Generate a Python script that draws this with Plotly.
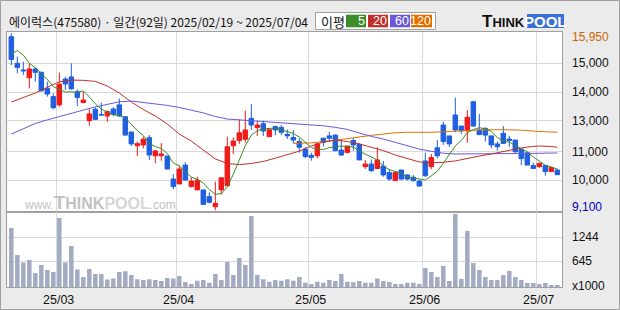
import plotly.graph_objects as go
import pandas as pd

# ---------------- data ----------------
title_text = "에이럭스(475580) · 일간(92일) 2025/02/19 ~ 2025/07/04"

month_labels = ["25/03", "25/04", "25/05", "25/06", "25/07"]
month_start_idx = [8, 28, 50, 69, 88]   # first trading day of each month (index)

opens = [15820, 14790, 14530, 14230, 14570, 14440, 13820, 13500, 13180, 14180,
         14260, 13690, 13270, 12570, 13010, 12810, 12750, 13020, 13180, 12720,
         12130, 11600, 11630, 11910, 11210, 11210, 11200, 10310, 10120, 10850,
         10020, 9890, 9890, 9630, 9240, 9890, 10050, 11600, 11800, 11850,
         12660, 12300, 12450, 11950, 12340, 12310, 12040, 11920, 11760, 11470,
         11230, 11210, 11890, 11980, 12010, 11430, 11340, 11800, 11650, 10790,
         10890, 10720, 10810, 10560, 10250, 10660, 10470, 10380, 10230, 11010,
         10790, 11520, 12400, 11980, 12790, 12360, 12180, 13300, 12210, 12270,
         11980, 11670, 12080, 11860, 11820, 11460, 11330, 10830, 10790, 10840,
         10600, 10660]
closes = [14940, 14630, 14500, 14570, 14440, 13730, 13600, 13070, 13980, 13990,
          13800, 13470, 13370, 12830, 12620, 12790, 12920, 12810, 12750, 12010,
          11670, 11680, 11850, 11240, 11400, 11280, 10700, 10020, 10700, 10270,
          10230, 10270, 9330, 9410, 9370, 10360, 11560, 11780, 12100, 12210,
          12400, 12400, 12170, 12220, 12210, 12120, 11980, 11820, 11540, 11180,
          11150, 11670, 11730, 11890, 11410, 11240, 11590, 11630, 11050, 10890,
          10630, 11050, 10470, 10310, 10560, 10310, 10310, 10250, 10040, 10440,
          11140, 11210, 11760, 11670, 12210, 12180, 12700, 12360, 12030, 12010,
          11630, 11560, 11690, 11800, 11370, 11100, 10850, 10720, 10920, 10600,
          10760, 10480]
highs = [15950, 15050, 14850, 14790, 14620, 14470, 14080, 13630, 14430, 14270,
         14790, 13780, 13690, 13010, 13090, 13270, 12960, 13090, 13430, 12750,
         12140, 11760, 11950, 12010, 11430, 11700, 11200, 10500, 10830, 10960,
         10380, 10400, 9890, 9800, 10210, 10360, 11950, 11920, 12620, 12960,
         13210, 12570, 12570, 12220, 12380, 12400, 12230, 12210, 11890, 11540,
         11330, 11690, 11910, 12140, 12040, 11850, 11590, 11890, 11690, 11050,
         11070, 11540, 11010, 10690, 10600, 10660, 10500, 10470, 10270, 11330,
         11280, 11820, 12530, 11980, 13460, 12360, 12980, 13340, 12830, 12310,
         11980, 11760, 12360, 11980, 11820, 11500, 11330, 10940, 10920, 10840,
         10790, 10710]
lows = [14720, 14400, 14340, 13820, 14080, 13690, 13500, 13010, 13110, 13760,
        13760, 13140, 13240, 12380, 12600, 12750, 12520, 12750, 12720, 12000,
        11590, 11200, 11500, 11050, 10920, 11020, 10690, 9920, 10120, 10270,
        9980, 9890, 9310, 9370, 9100, 9710, 10050, 11280, 11670, 11720,
        12210, 11980, 11980, 11950, 12000, 12010, 11860, 11690, 11330, 11110,
        11020, 11120, 11560, 11760, 11380, 11200, 11300, 11410, 11050, 10700,
        10600, 10700, 10400, 10250, 10250, 10270, 10250, 10210, 10020, 10380,
        10690, 11110, 11630, 11560, 12120, 12050, 11720, 12340, 12010, 11760,
        11500, 11410, 11670, 11560, 11280, 10850, 10850, 10720, 10750, 10440,
        10600, 10480]
volumes = [1476, 805, 614, 680, 357, 556, 431, 382, 1725, 614,
           1029, 440, 257, 456, 332, 332, 191, 216, 382, 398,
           307, 199, 183, 199, 183, 158, 232, 216, 282, 133,
           83, 166, 183, 116, 332, 183, 630, 307, 730, 556,
           1775, 307, 199, 141, 183, 166, 199, 166, 257, 116,
           83, 141, 116, 183, 158, 332, 141, 124, 158, 116,
           116, 216, 158, 133, 83, 83, 116, 116, 83, 481,
           382, 257, 531, 158, 1825, 207, 1402, 606, 431, 257,
           183, 183, 307, 407, 257, 183, 108, 108, 83, 108,
           58, 58]

# moving averages (MA5 head, rest from closes; MA20/60/120 read)
ma5_head = [15150, 15280, 15110, 14790]
ma20_idx = [0, 4, 8, 10, 12, 14, 16, 18, 20, 22, 24, 26, 28, 30, 32, 34, 36, 38, 40, 42,
            44, 46, 48, 50, 52, 54, 56, 58, 60, 62, 64, 66, 68, 70, 72, 74, 76, 78, 80, 82,
            84, 86, 88, 90, 91]
ma20_val = [13290, 13640, 14070, 14140, 14130, 14090, 13910, 13640, 13290, 13000,
            12750, 12440, 12050, 11780, 11430, 11090, 10910, 10870, 10910, 10990,
            11120, 11240, 11390, 11590, 11740, 11820, 11760, 11670, 11550, 11410,
            11240, 11090, 10970, 10940, 10960, 11010, 11110, 11200, 11280, 11380,
            11470, 11550, 11590, 11570, 11540]
ma60_idx = [0, 2, 4, 6, 8, 10, 12, 14, 16, 18, 20, 22, 24, 26, 28, 30, 32, 34, 36, 38,
            40, 42, 44, 46, 48, 50, 52, 54, 56, 58, 60, 62, 64, 66, 68, 70, 72, 74, 78, 82,
            86, 91]
ma60_val = [12050, 12250, 12460, 12600, 12730, 12870, 12980, 13100, 13210, 13300,
            13330, 13270, 13230, 13160, 13080, 12980, 12870, 12730, 12630, 12600,
            12570, 12540, 12510, 12470, 12450, 12420, 12370, 12310, 12230, 12090,
            11960, 11860, 11720, 11590, 11470, 11380, 11310, 11280, 11280, 11280,
            11300, 11320]
ma120_idx = [47, 50, 53, 56, 58, 60, 62, 64, 66, 70, 74, 78, 82, 85, 88, 91]
ma120_val = [11690, 11710, 11780, 11880, 11940, 12000, 12050, 12100, 12120, 12120,
             12160, 12210, 12220, 12200, 12150, 12120]

price_grid_labels = ["15,000", "14,000", "13,000", "11,000", "10,000"]
price_grid_vals = [14790, 13670, 12560, 11370, 10260]
vol_grid_vals = [645, 1244]

# ---------------- styling ----------------
W, H = 620, 310
def px(x):
    return x / W
def py(y):
    return 1 - y / H

RED = "#f01a1a"
BLUE = "#1f5fe0"
C5, C20, C60, C120 = "#3c8c28", "#c0302a", "#6a58d8", "#e07000"
GRID = "#d9d9d9"
FRAME = "#a0a0a0"
AXF = "Liberation Sans, Arial, sans-serif"
KRF = "Noto Sans CJK KR, sans-serif"

idx = list(range(len(opens)))
ma5 = ma5_head + list(pd.Series(closes).rolling(5).mean().iloc[4:].round(0))

fig = go.Figure()
fig.add_trace(go.Bar(x=idx, y=volumes, xaxis="x2", yaxis="y2", width=0.75,
                     marker=dict(color="#a3abc3", line=dict(width=0))))
fig.add_trace(go.Scatter(x=ma120_idx, y=ma120_val, mode="lines", line=dict(color=C120, width=1)))
fig.add_trace(go.Scatter(x=ma60_idx, y=ma60_val, mode="lines", line=dict(color=C60, width=1)))
fig.add_trace(go.Scatter(x=ma20_idx, y=ma20_val, mode="lines", line=dict(color=C20, width=1)))
fig.add_trace(go.Scatter(x=idx, y=ma5, mode="lines", line=dict(color=C5, width=1)))
fig.add_trace(go.Candlestick(
    x=idx, open=opens, high=highs, low=lows, close=closes, whiskerwidth=0,
    increasing=dict(line=dict(color=RED, width=1), fillcolor=RED),
    decreasing=dict(line=dict(color=BLUE, width=1), fillcolor=BLUE),
    xaxis="x", yaxis="y"))

xdom = [px(7.3), px(562.3)]
xr = [-0.67, 91.83]
grid_x = [i - 0.5 for i in month_start_idx]
common_x = dict(domain=xdom, range=xr, tickvals=grid_x, showticklabels=False, ticks="",
                showgrid=True, gridcolor=GRID, gridwidth=1, zeroline=False,
                showline=True, mirror=True, linecolor=FRAME, linewidth=1, fixedrange=True)
common_y = dict(showticklabels=False, ticks="", showgrid=True, gridcolor=GRID, gridwidth=1,
                zeroline=False, showline=True, mirror=True, linecolor=FRAME, linewidth=1)

fig.update_layout(
    width=W, height=H, margin=dict(l=0, r=0, t=0, b=0),
    paper_bgcolor="#ebebeb", plot_bgcolor="#ffffff", showlegend=False,
    boxgap=0.25, boxgroupgap=0,
    xaxis=dict(anchor="y", rangeslider=dict(visible=False), **common_x),
    xaxis2=dict(anchor="y2", matches="x", **common_x),
    yaxis=dict(domain=[py(212.3), py(31.7)], range=[9023, 16012], tickvals=price_grid_vals, **common_y),
    yaxis2=dict(domain=[py(287.3), py(212.3)], range=[0, 1866], tickvals=vol_grid_vals, **common_y),
)

ann = []
shapes = []
# outer frame
shapes.append(dict(type="rect", xref="paper", yref="paper", x0=px(0.5), x1=px(619.5), y0=py(309.5), y1=py(0.5),
                   line=dict(color=FRAME, width=1), layer="above"))
# title
ann.append(dict(text=title_text, xref="paper", yref="paper", x=px(6.5), y=py(21), xanchor="left", yanchor="middle",
                showarrow=False, font=dict(family=KRF, size=12, color="#111111")))
# MA legend box
shapes.append(dict(type="rect", xref="paper", yref="paper", x0=px(315.5), x1=px(435.5), y0=py(29.5), y1=py(12.5),
                   fillcolor="#ffffff", line=dict(color=FRAME, width=1)))
ann.append(dict(text="이평", xref="paper", yref="paper", x=px(319), y=py(21), xanchor="left", yanchor="middle",
                showarrow=False, font=dict(family=KRF, size=13, color="#111111")))
for (x0, x1, c, t) in [(346, 366, C5, "5"), (368, 388, C20, "20"), (390, 410, C60, "60"), (411, 432, C120, "120")]:
    shapes.append(dict(type="rect", xref="paper", yref="paper", x0=px(x0), x1=px(x1), y0=py(27.3), y1=py(14.7),
                       fillcolor=c, line=dict(width=0)))
    ann.append(dict(text=t, xref="paper", yref="paper", x=px(x1 + 0.5), y=py(21), xanchor="right", yanchor="middle",
                    showarrow=False, font=dict(family=AXF, size=12.5, color="#ffffff")))
# THINKPOOL logo
shapes.append(dict(type="rect", xref="paper", yref="paper", x0=px(527), x1=px(564), y0=py(28), y1=py(14),
                   fillcolor="#3a6fd6", line=dict(width=0)))
ann.append(dict(text="<b><span style='font-size:17px'>T</span>HINK</b>", xref="paper", yref="paper",
                x=px(527), y=py(21.5), xanchor="right", yanchor="middle", showarrow=False,
                font=dict(family=AXF, size=13, color="#111111")))
ann.append(dict(text="<b>POOL</b>", xref="paper", yref="paper", x=px(545.5), y=py(21.5), xanchor="center",
                yanchor="middle", showarrow=False, font=dict(family=AXF, size=15, color="#ffffff")))
# watermark
ann.append(dict(text="www.<b><span style='font-size:19px'>T</span><span style='font-size:16px'>HINK</span>"
                     "<span style='font-size:16px;color:#d6d6d6'>POOL</span></b>.com",
                xref="paper", yref="paper", x=px(22), y=py(203), xanchor="left", yanchor="middle",
                showarrow=False, font=dict(family=AXF, size=12, color="#c2c2c2")))
# price labels
for v, t in zip(price_grid_vals, price_grid_labels):
    ann.append(dict(text=t, xref="paper", yref="y", x=px(570), y=v, xanchor="left", yanchor="middle",
                    showarrow=False, font=dict(family=AXF, size=12, color="#111111")))
ann.append(dict(text=f"{max(highs):,}", xref="paper", yref="paper", x=px(570), y=py(37.3), xanchor="left",
                yanchor="middle", showarrow=False, font=dict(family=AXF, size=12, color="#cc6600")))
ann.append(dict(text=f"{min(lows):,}", xref="paper", yref="paper", x=px(570), y=py(206.7), xanchor="left",
                yanchor="middle", showarrow=False, font=dict(family=AXF, size=12, color="#0000c0")))
# volume labels
for v in vol_grid_vals:
    ann.append(dict(text=str(v), xref="paper", yref="y2", x=px(570), y=v, xanchor="left", yanchor="middle",
                    showarrow=False, font=dict(family=AXF, size=12, color="#111111")))
ann.append(dict(text="x1000", xref="paper", yref="paper", x=px(570), y=py(286), xanchor="left", yanchor="middle",
                showarrow=False, font=dict(family=AXF, size=12, color="#111111")))
# month labels
for i, t in zip(month_start_idx, month_labels):
    ann.append(dict(text=t, xref="x2", yref="paper", x=i - 0.2, y=py(300), xanchor="center", yanchor="middle",
                    showarrow=False, font=dict(family=AXF, size=12.5, color="#111111")))

fig.update_layout(annotations=ann, shapes=shapes)
fig.write_html("out.html")
